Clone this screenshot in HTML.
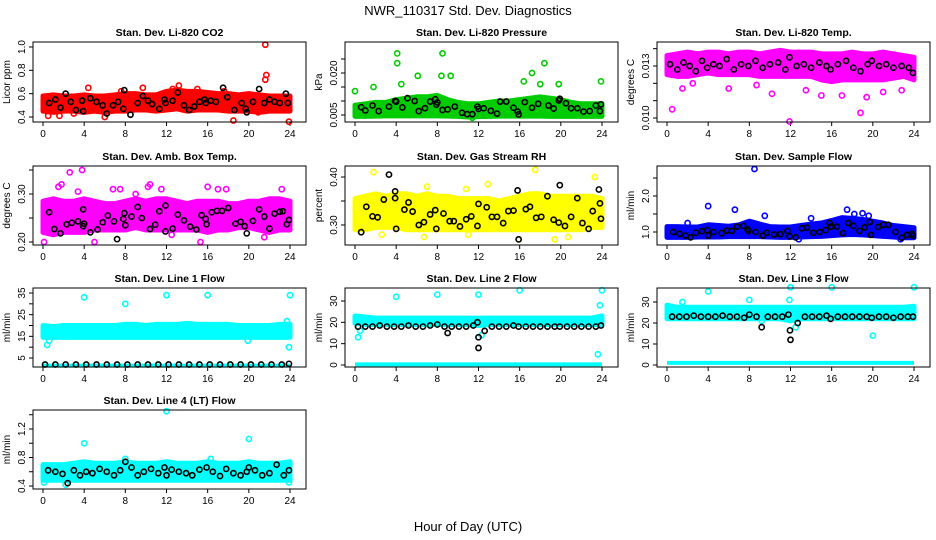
<!DOCTYPE html>
<html><head><meta charset="utf-8"><style>
body{margin:0;background:#fff;}
svg{display:block;font-family:"Liberation Sans",sans-serif;}
</style></head><body>
<svg id="chart" width="936" height="540" viewBox="0 0 936 540" xmlns="http://www.w3.org/2000/svg">
<rect width="936" height="540" fill="#fff"/>
<text x="468" y="15" font-size="13" text-anchor="middle">NWR_110317  Std. Dev. Diagnostics</text>
<text x="468" y="531" font-size="13" text-anchor="middle">Hour of Day (UTC)</text>
</svg>
<script>
// hours for band arrays
const bandHours=[0,1,2,3,4,5,6,7,8,9,10,11,12,13,14,15,16,17,18,19,20,21,22,23,24];
const xTicks=[0,4,8,12,16,20,24];

// Panel 1: CO2
const co2Lo=[0.45,0.44,0.45,0.45,0.44,0.45,0.44,0.45,0.45,0.46,0.46,0.45,0.46,0.47,0.45,0.46,0.46,0.46,0.45,0.45,0.45,0.44,0.45,0.45,0.45];
const co2Hi=[0.58,0.59,0.58,0.58,0.59,0.58,0.58,0.59,0.60,0.60,0.59,0.59,0.62,0.63,0.62,0.62,0.61,0.60,0.60,0.59,0.60,0.59,0.58,0.58,0.58];
const co2PtH=[0.5,4.4,6.0,9.7,13.2,12.6,15.0,18.5,21.6,21.7,21.6,23.9,1.6,7.6,20.9,3.0,11.4,17.6];
const co2PtV=[0.41,0.65,0.40,0.65,0.67,0.64,0.64,0.37,1.02,0.76,0.72,0.36,0.41,0.62,0.44,0.43,0.47,0.62];
const co2BkH=[0.6,1.2,1.7,2.2,2.7,3.2,3.8,3.9,4.6,5.2,5.8,6.2,6.8,7.3,7.8,7.9,8.5,9.2,9.7,10.2,10.6,11.3,11.8,11.9,12.6,13.1,13.7,14.2,14.7,15.2,15.7,15.8,16.3,16.8,17.5,17.9,18.6,19.3,19.7,19.8,20.4,21.0,21.5,22.0,22.5,23.0,23.6,23.8];
const co2BkV=[0.52,0.55,0.48,0.60,0.53,0.46,0.54,0.45,0.56,0.53,0.50,0.43,0.50,0.53,0.47,0.63,0.42,0.52,0.58,0.54,0.51,0.47,0.55,0.52,0.54,0.61,0.50,0.46,0.49,0.53,0.55,0.52,0.54,0.53,0.65,0.57,0.46,0.52,0.47,0.44,0.53,0.64,0.52,0.55,0.53,0.52,0.60,0.52];

// Panel 2: Pressure
const prLo=[0.0045,0.0045,0.0046,0.0047,0.0047,0.0047,0.0047,0.0047,0.0047,0.0046,0.0045,0.0043,0.0044,0.0045,0.0046,0.0046,0.0046,0.0046,0.0046,0.0045,0.0045,0.0045,0.0045,0.0045,0.0045];
const prHi=[0.0085,0.0090,0.0095,0.0095,0.0105,0.0110,0.0115,0.0115,0.0120,0.0105,0.0095,0.0090,0.0090,0.0095,0.0100,0.0100,0.0105,0.0110,0.0115,0.0110,0.0105,0.0095,0.0090,0.0090,0.0090];
const prPtH=[4.1,8.5,4.1,18.4,17.2,8.4,9.3,6.1,23.9,16.4,19.8,0.0,18.0,1.8,4.5,11.4];
const prPtV=[0.027,0.027,0.0235,0.0235,0.020,0.019,0.019,0.019,0.017,0.017,0.016,0.0135,0.016,0.015,0.016,0.004];
const prBkH=[0.6,1.0,1.7,2.3,3.3,3.9,4.0,4.6,5.1,5.8,6.2,6.8,7.3,7.8,7.9,8.0,8.5,9.0,9.7,10.4,10.9,11.4,11.9,12.0,12.5,13.2,13.8,14.1,14.7,15.4,15.8,15.9,16.5,17.2,17.8,18.8,19.3,19.8,19.9,20.5,21.0,21.6,22.2,22.8,23.4,23.8,23.9];
const prBkV=[0.0078,0.0066,0.0084,0.0064,0.0080,0.0100,0.0098,0.0077,0.0110,0.0100,0.0064,0.0074,0.0098,0.0106,0.0087,0.0095,0.0068,0.0070,0.0080,0.0058,0.0053,0.0053,0.0080,0.0072,0.0074,0.0065,0.0055,0.0098,0.0098,0.0076,0.0062,0.0052,0.0096,0.0076,0.0090,0.0084,0.0073,0.0102,0.0108,0.0092,0.0074,0.0074,0.0062,0.0064,0.0084,0.0064,0.0088];

// Panel 3: Li-820 Temp
const tpLo=[0.0125,0.0124,0.0124,0.0125,0.0126,0.0125,0.0125,0.0125,0.0125,0.0124,0.0124,0.0124,0.0124,0.0124,0.0124,0.0122,0.0121,0.0122,0.0122,0.0122,0.0122,0.0122,0.0123,0.0124,0.0122];
const tpHi=[0.0136,0.0137,0.0138,0.0137,0.0138,0.0138,0.0137,0.0138,0.0138,0.0137,0.0138,0.0139,0.0138,0.0138,0.0138,0.0137,0.0137,0.0137,0.0138,0.0137,0.0137,0.0138,0.0137,0.0136,0.0135];
const tpPtH=[0.5,1.5,11.9,18.8,17.0,10.2,15.0,6.0,13.5,19.4,22.8,2.5,8.7,21.0];
const tpPtV=[0.0105,0.0117,0.0098,0.0103,0.0113,0.0114,0.0113,0.0117,0.0116,0.0112,0.0116,0.0120,0.0119,0.0115];
const tpBkH=[0.3,1.0,1.6,2.2,2.8,3.4,3.9,4.5,5.1,5.8,6.5,7.2,7.9,8.6,9.3,10.0,10.8,11.5,11.9,12.6,13.3,14.0,14.8,15.5,15.9,16.6,17.4,18.1,18.8,19.5,19.9,20.6,21.3,22.0,22.8,23.5,23.9];
const tpBkV=[0.0131,0.0128,0.0132,0.0130,0.0127,0.0133,0.0129,0.0131,0.0130,0.0134,0.0128,0.0131,0.0130,0.0133,0.0129,0.0131,0.0132,0.0128,0.0135,0.0130,0.0131,0.0129,0.0132,0.0130,0.0128,0.0131,0.0133,0.0129,0.0127,0.0131,0.0133,0.0130,0.0131,0.0129,0.0130,0.0129,0.0126];

// Panel 4: Amb Box Temp
const btLo=[0.22,0.215,0.22,0.22,0.22,0.225,0.225,0.225,0.225,0.23,0.225,0.225,0.225,0.225,0.225,0.225,0.22,0.225,0.225,0.23,0.23,0.225,0.22,0.225,0.225];
const btHi=[0.285,0.29,0.285,0.285,0.29,0.285,0.28,0.28,0.285,0.29,0.285,0.29,0.29,0.285,0.28,0.285,0.285,0.285,0.28,0.28,0.285,0.285,0.29,0.29,0.285];
const btPtH=[2.6,3.8,1.8,1.5,10.4,10.2,0.1,5.0,15.3,16.0,17.0,17.8,23.2,3.4,6.8,7.5,11.5,21.5,12.5,9.0];
const btPtV=[0.345,0.35,0.32,0.315,0.32,0.315,0.20,0.20,0.20,0.315,0.31,0.31,0.31,0.305,0.31,0.31,0.31,0.21,0.215,0.30];
const btBkH=[0.6,1.1,1.7,2.3,2.8,3.4,3.9,3.9,4.0,4.6,5.3,5.8,6.3,6.9,7.2,7.8,7.9,8.0,8.6,9.2,9.6,10.4,10.9,11.3,11.9,11.9,12.6,13.1,13.7,14.3,14.9,15.4,15.8,15.9,16.4,16.9,17.4,18.0,18.7,19.2,19.6,19.8,20.4,21.0,21.5,22.0,22.5,23.0,23.3,23.7,23.9];
const btBkV=[0.262,0.227,0.218,0.237,0.24,0.243,0.268,0.233,0.238,0.220,0.226,0.241,0.255,0.243,0.206,0.248,0.260,0.235,0.253,0.273,0.250,0.227,0.236,0.264,0.276,0.222,0.228,0.257,0.245,0.232,0.226,0.256,0.248,0.237,0.262,0.265,0.265,0.271,0.238,0.242,0.233,0.218,0.244,0.268,0.253,0.228,0.259,0.263,0.264,0.237,0.246];

// Panel 5: Gas Stream RH
const rhLo=[0.29,0.29,0.295,0.295,0.295,0.29,0.29,0.29,0.29,0.29,0.29,0.29,0.29,0.29,0.29,0.29,0.29,0.29,0.29,0.29,0.29,0.29,0.29,0.295,0.295];
const rhHi=[0.355,0.36,0.365,0.36,0.365,0.365,0.36,0.365,0.36,0.36,0.355,0.355,0.355,0.355,0.35,0.355,0.36,0.365,0.365,0.36,0.36,0.36,0.36,0.36,0.355];
const rhPtH=[17.5,1.8,23.3,12.9,2.6,6.7,11.0,15.9,19.4,20.7,7.0,10.8];
const rhPtV=[0.415,0.41,0.40,0.385,0.28,0.275,0.28,0.27,0.27,0.275,0.38,0.375];
const rhBkH=[0.6,1.1,1.7,2.2,2.8,3.3,3.9,3.9,4.0,4.8,5.2,5.6,6.2,6.7,7.3,7.8,7.9,8.6,9.2,9.6,10.2,10.8,11.3,11.9,12.0,12.8,13.3,13.8,14.4,14.9,15.4,15.8,15.9,16.6,17.0,17.6,18.1,18.7,19.3,19.8,19.9,20.4,21.0,21.6,22.1,22.7,23.1,23.7,23.8,23.9];
const rhBkV=[0.285,0.338,0.318,0.316,0.353,0.405,0.370,0.356,0.292,0.332,0.347,0.328,0.300,0.306,0.322,0.331,0.292,0.324,0.308,0.308,0.297,0.312,0.318,0.298,0.344,0.337,0.317,0.317,0.304,0.329,0.330,0.372,0.270,0.333,0.338,0.315,0.317,0.360,0.311,0.305,0.383,0.298,0.317,0.356,0.304,0.292,0.329,0.374,0.345,0.313];

// Panel 6: Sample Flow
const sfLo=[0.85,0.85,0.85,0.86,0.86,0.86,0.87,0.87,0.87,0.87,0.86,0.85,0.85,0.86,0.87,0.88,0.90,0.92,0.93,0.92,0.90,0.88,0.86,0.84,0.84];
const sfHi=[1.15,1.15,1.14,1.14,1.20,1.18,1.16,1.20,1.30,1.22,1.15,1.14,1.14,1.18,1.22,1.25,1.32,1.40,1.38,1.35,1.30,1.25,1.18,1.15,1.12];
const sfPtH=[8.5,4.0,6.6,17.5,9.5,18.2,19.0,19.6,14.0,2.0,12.8,22.7];
const sfPtV=[2.75,1.72,1.62,1.62,1.45,1.50,1.52,1.45,1.38,1.25,0.80,0.80];
const sfBkH=[0.6,1.2,1.8,2.3,2.8,3.4,3.9,4.0,4.5,5.3,5.8,6.3,6.8,7.4,7.8,7.9,8.6,9.3,9.7,10.4,11.0,11.7,11.9,12.5,13.1,13.6,14.2,14.8,15.4,15.8,15.9,16.5,17.1,17.6,18.1,18.7,19.2,19.7,19.8,20.5,21.0,21.5,22.2,22.8,23.3,23.8,23.9];
const sfBkV=[1.0,0.95,0.90,0.85,0.98,1.02,1.05,0.90,1.0,0.97,1.04,1.03,1.15,1.17,1.08,1.03,1.00,0.90,0.98,0.93,0.94,1.03,0.88,0.85,1.10,1.12,0.98,1.0,1.05,1.25,1.15,1.15,0.97,1.25,1.17,1.03,1.13,1.28,0.92,1.14,1.20,1.20,1.00,0.84,0.92,0.95,0.90];

// Panel 7: Line 1 Flow
const l1Lo=[14.5,14.5,14.5,14.5,14.5,14.5,14.5,14.5,14.5,14.5,14.5,14.5,14.5,14.5,14.5,14.5,14.5,14.5,14.5,14.5,14.5,14.5,14.5,14.5,14.5];
const l1Hi=[20,19.5,20,20,20,20,20,20,20.5,20.5,20,20.5,20.5,20.5,21,20.5,20.5,20.5,20.5,20,20,20,20,20.5,20.5];
const l1PtH=[4.0,8.0,12.0,16.0,24.0,0.4,0.6,23.7,23.9,19.9];
const l1PtV=[33,30,34,34,34,11,13,22,10,13];
const l1BkH=[0.2,1.2,2.2,3.2,4.2,5.2,6.2,7.2,8.2,9.2,10.2,11.2,12.2,13.2,14.2,15.2,16.2,17.2,18.2,19.2,20.2,21.2,22.2,23.2,23.9];
const l1BkV=[2,2,2,2,2,2,2,2,2,2,2,2,2,2,2,2,2,2,2,2,2,2,2,2,2.3];
const l1BaseV=[1.5,1.5,1.5,1.5,1.5,1.5,1.5,1.5,1.5,1.5,1.5,1.5,1.5,1.5,1.5,1.5,1.5,1.5,1.5,1.5,1.5,1.5,1.5,1.5,1.5];

// Panel 8: Line 2 Flow
const l2Lo=[19.5,19,19,19,19,19,19,19,19,19,19,19,18.5,19,19,19,19,19,19,19,19,19,19,19,19];
const l2Hi=[23,22.5,22,22,22,22,22,22,22,22,22,22,22,22,22,22,22,22,22,22,22,22,22,22,23];
const l2PtH=[4.0,8.0,12.0,16.0,24.0,0.3,0.5,23.6,23.8,12.3];
const l2PtV=[32,33,33,35,35,13,16,5,28,14];
const l2BkH=[0.3,1.0,1.7,2.4,3.1,3.8,4.5,5.2,5.9,6.6,7.3,8.0,8.7,9.0,9.4,10.1,10.8,11.5,11.9,12.0,12.0,12.6,13.3,14.0,14.7,15.4,15.9,16.6,17.3,18.0,18.7,19.4,19.9,20.6,21.3,22.0,22.7,23.4,23.9];
const l2BkV=[18,18,18,18.5,18,18,18,18.5,18,18,18.5,19,18,15,18,18,18,18.5,20,13,8,16,18,18,18,18.5,18,18,18,18,18,18,18,18,18,18,18,18,18.5];
const l2BaseV=[0.3,0.3,0.3,0.3,0.3,0.3,0.3,0.3,0.3,0.3,0.3,0.3,0.3,0.3,0.3,0.3,0.3,0.3,0.3,0.3,0.3,0.3,0.3,0.3,0.3];

// Panel 9: Line 3 Flow
const l3Lo=[22,22,22,22,22,22,22,22,22,22,22,22,21,22,22,22,22,22,22,22,22,22,22,22,22];
const l3Hi=[28.5,27.5,27.5,27.5,27.5,27.5,27.5,27.5,27.5,27.5,27.5,27.5,27.5,27.5,27.5,27.5,27.5,27.5,27.5,27.5,27.5,27.5,27.5,27.5,28];
const l3PtH=[4.0,8.0,12.0,16.0,24.0,1.5,20.0,12.5,11.9,9.2];
const l3PtV=[35,31,37,37,37,30,14,18,31,21];
const l3BkH=[0.5,1.2,1.9,2.6,3.3,4.0,4.7,5.4,6.1,6.8,7.5,8.0,8.7,9.2,9.8,10.5,11.2,11.8,11.95,12.0,12.7,13.4,14.1,14.8,15.5,15.9,16.6,17.3,18.0,18.7,19.4,19.9,20.6,21.3,22.0,22.7,23.4,23.9];
const l3BkV=[23,23,23,23.5,23,23,23,23.5,23,23,22.5,24,23,18,23,23,23,24,16.5,12,20,23,23,23,23.5,22,23,23,23,23,23,22.5,23,23,22.5,23,23,23];
const l3BaseV=[1,1,1,1,1,1,1,1,1,1,1,1,1,1,1,1,1,1,1,1,1,1,1,1,1];

// Panel 10: Line 4 (LT) Flow
const l4Lo=[0.48,0.48,0.48,0.48,0.48,0.48,0.48,0.48,0.48,0.48,0.48,0.48,0.48,0.48,0.48,0.48,0.48,0.48,0.48,0.48,0.48,0.48,0.48,0.48,0.48];
const l4Hi=[0.70,0.70,0.70,0.72,0.74,0.72,0.72,0.72,0.74,0.72,0.72,0.72,0.74,0.72,0.72,0.72,0.74,0.72,0.72,0.72,0.74,0.72,0.72,0.72,0.74];
const l4PtH=[12.0,20.0,4.0,8.0,0.1,2.2,16.3,23.9];
const l4PtV=[1.45,1.06,1.00,0.78,0.45,0.42,0.78,0.45];
const l4BkH=[0.5,1.2,1.9,2.4,3.0,3.6,4.2,4.8,5.5,6.2,6.9,7.5,8.0,8.6,9.2,9.8,10.5,11.2,11.8,12.0,12.5,13.2,13.9,14.5,15.2,15.9,16.5,17.2,17.8,18.5,19.2,19.8,20.0,20.6,21.3,22.0,22.7,23.4,23.9];
const l4BkV=[0.62,0.60,0.57,0.44,0.62,0.55,0.60,0.58,0.64,0.60,0.55,0.62,0.74,0.66,0.55,0.60,0.64,0.58,0.66,0.55,0.63,0.60,0.58,0.55,0.63,0.66,0.60,0.54,0.64,0.58,0.55,0.60,0.66,0.62,0.55,0.58,0.70,0.55,0.62];

const NS='http://www.w3.org/2000/svg';
const svg=document.getElementById('chart');
function mk(tag,attrs,parent){const e=document.createElementNS(NS,tag);for(const k in attrs)e.setAttribute(k,attrs[k]);(parent||svg).appendChild(e);return e;}

const cols=[{L:33,R:306,x0:43,x24:290},{L:345,R:618,x0:355,x24:602},{L:657,R:930,x0:667,x24:914}];
const rows=[{T:42,B:122},{T:166,B:245},{T:288,B:367},{T:410,B:489}];

function panel(key,title,ylab,col,row,y1,p1,y2,p2,ticks,labels,color,lo,hi,ptH,ptV,bkH,bkV,baseV){
  const c=cols[col],r=rows[row];
  const g=mk('g',{});
  
  
  const xs=h=>c.x0+h*(c.x24-c.x0)/24;
  const ys=v=>p1+(v-y1)*(p2-p1)/(y2-y1);
  const t=mk('text',{x:(c.L+c.R)/2,y:r.T-6,'font-size':10.5,'font-weight':'bold','text-anchor':'middle'},g);
  t.textContent=title;
  
  
  const yl=mk('text',{x:0,y:0,'font-size':10,'text-anchor':'middle',transform:`translate(${c.L-23},${(r.T+r.B)/2}) rotate(-90)`},g);
  yl.textContent=ylab;
  
  
  const xa=mk('g',{stroke:'#000','stroke-width':1},g);
  
  
  mk('line',{x1:c.x0,x2:c.x24,y1:r.B,y2:r.B},xa);
  xTicks.forEach(h=>{
    mk('line',{x1:xs(h),x2:xs(h),y1:r.B,y2:r.B+4},xa);
    const tl=mk('text',{x:xs(h),y:r.B+15,'font-size':10,'text-anchor':'middle',stroke:'none'},g);
    tl.textContent=h;
    
    
  });
  const ya=mk('g',{stroke:'#000','stroke-width':1},g);
  
  
  mk('line',{x1:c.L,x2:c.L,y1:ys(ticks[0]),y2:ys(ticks[ticks.length-1])},ya);
  ticks.forEach((v,i)=>{
    mk('line',{x1:c.L-4,x2:c.L,y1:ys(v),y2:ys(v)},ya);
    if(labels[i]){
      const tl=mk('text',{x:0,y:0,'font-size':10,'text-anchor':'middle',transform:`translate(${c.L-8},${ys(v)}) rotate(-90)`},g);
      tl.textContent=labels[i];
      
      
    }
  });
  const clip=mk('g',{},g);
  let pts=lo.map((v,i)=>xs(bandHours[i])+','+ys(v));
  pts=pts.concat(hi.map((v,i)=>xs(bandHours[i])+','+ys(v)).reverse());
  const band=mk('polygon',{points:pts.join(' '),fill:color,stroke:color,'stroke-width':5,'stroke-linejoin':'round'},clip);
  
  
  if(baseV){
    const bl=mk('polyline',{points:baseV.map((v,i)=>xs(bandHours[i])+','+ys(v)).join(' '),fill:'none',stroke:color,'stroke-width':4},clip);
    
    
  }
  ptH.forEach((h,i)=>{
    const p=mk('circle',{cx:xs(h),cy:ys(ptV[i]),r:2.6,fill:'none',stroke:color,'stroke-width':1.6},clip);
    
    
  });
  bkH.forEach((h,i)=>{
    const p=mk('circle',{cx:xs(h),cy:ys(bkV[i]),r:2.6,fill:'none',stroke:'#000','stroke-width':1.6},clip);
    
    
  });
  const box=mk('rect',{x:c.L,y:r.T,width:c.R-c.L,height:r.B-r.T,fill:'none',stroke:'#000','stroke-width':1},g);
  
  
}

panel('co2','Stan. Dev. Li-820 CO2','Licor ppm',0,0,0.4,117,1.0,47,[0.4,0.6,0.8,1.0],['0.4','0.6','0.8','1.0'],'#ff0000',co2Lo,co2Hi,co2PtH,co2PtV,co2BkH,co2BkV);
panel('pressure','Stan. Dev. Li-820 Pressure','kPa',1,0,0.005,115,0.020,73,[0.005,0.010,0.015,0.020,0.025],['0.005','','','0.020',''],'#00cc00',prLo,prHi,prPtH,prPtV,prBkH,prBkV);
panel('li820-temp','Stan. Dev. Li-820 Temp.','degrees C',2,0,0.010,118,0.013,66,[0.010,0.011,0.012,0.013,0.014],['0.010','','','0.013',''],'#ff00ff',tpLo,tpHi,tpPtH,tpPtV,tpBkH,tpBkV);
panel('box-temp','Stan. Dev. Amb. Box Temp.','degrees C',0,1,0.20,242,0.30,194,[0.20,0.25,0.30,0.35],['0.20','','0.30',''],'#ff00ff',btLo,btHi,btPtH,btPtV,btBkH,btBkV);
panel('rh','Stan. Dev. Gas Stream RH','percent',1,1,0.30,225,0.40,177,[0.30,0.35,0.40],['0.30','','0.40'],'#ffff00',rhLo,rhHi,rhPtH,rhPtV,rhBkH,rhBkV);
panel('sample-flow','Stan. Dev. Sample Flow','ml/min',2,1,1.0,232,2.0,196,[1.0,1.5,2.0,2.5],['1.0','','2.0',''],'#0000ff',sfLo,sfHi,sfPtH,sfPtV,sfBkH,sfBkV);
panel('line1','Stan. Dev. Line 1 Flow','ml/min',0,2,5,358,35,293,[5,10,15,20,25,30,35],['5','','15','','25','','35'],'#00ffff',l1Lo,l1Hi,l1PtH,l1PtV,l1BkH,l1BkV,l1BaseV);
panel('line2','Stan. Dev. Line 2 Flow','ml/min',1,2,0,365,30,301,[0,10,20,30],['0','10','20','30'],'#00ffff',l2Lo,l2Hi,l2PtH,l2PtV,l2BkH,l2BkV,l2BaseV);
panel('line3','Stan. Dev. Line 3 Flow','ml/min',2,2,0,365,30,302,[0,10,20,30],['0','10','20','30'],'#00ffff',l3Lo,l3Hi,l3PtH,l3PtV,l3BkH,l3BkV,l3BaseV);
panel('line4','Stan. Dev. Line 4 (LT) Flow','ml/min',0,3,0.4,486,1.2,429,[0.4,0.6,0.8,1.0,1.2,1.4],['0.4','','0.8','','1.2',''],'#00ffff',l4Lo,l4Hi,l4PtH,l4PtV,l4BkH,l4BkV);
</script>
</body></html>
